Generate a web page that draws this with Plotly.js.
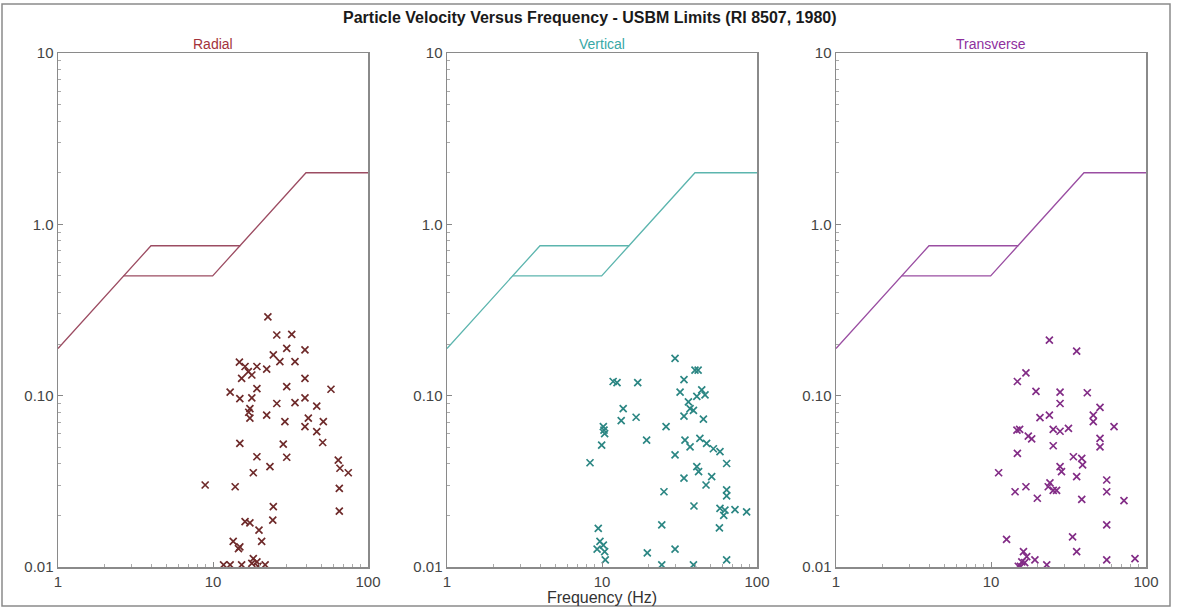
<!DOCTYPE html>
<html>
<head>
<meta charset="utf-8">
<script src="https://cdn.plot.ly/plotly-3.0.1.min.js"></script>
<style>html,body{margin:0;padding:0;background:#fff;}#chart{width:1177px;height:609px;}</style>
</head>
<body>
<div id="chart"></div>
<script>
// USBM RI 8507 limit curves
const limitFreqA = [1, 3.98, 14.92, 39.8, 100];
const limitVelA  = [0.1885, 0.75, 0.75, 2.0, 2.0];
const limitFreqB = [2.65, 9.95, 14.92];
const limitVelB  = [0.5, 0.5, 0.75];

const panelTitles = ["Radial", "Vertical", "Transverse"];
const yTickVals = [0.01, 0.1, 1, 10];
const yTickText = ["0.01", "0.10", "1.0", "10"];
const xTickVals = [1, 10, 100];
const xTickText = ["1", "10", "100"];

// Radial
const radialFreq = [22.6,25.8,32.2,29.9,39.2,24.5,27.0,33.8,14.8,16.1,19.2,22.2,16.9,17.8,15.3,39.2,19.2,29.9,12.9,57.7,
  14.9,17.8,25.8,33.8,39.2,46.7,17.3,17.0,22.2,17.3,29.1,41.2,51.5,39.2,46.7,14.9,28.4,51.0,19.2,29.9,
  64.3,23.3,65.9,74.6,18.2,8.9,13.9,65.3,24.5,65.3,24.3,16.1,17.3,19.8,13.5,14.9,20.6,14.6,18.2,19.2,
  17.8,11.7,12.9,15.3,21.7,19.5];
const radialVel = [0.288,0.226,0.228,0.189,0.185,0.173,0.158,0.158,0.157,0.148,0.148,0.143,0.138,0.132,0.126,0.126,0.110,0.113,0.105,0.109,
  0.096,0.097,0.090,0.091,0.097,0.087,0.084,0.080,0.077,0.074,0.0705,0.074,0.0705,0.066,0.0617,0.0527,0.0522,0.0533,0.044,0.0437,
  0.0421,0.0385,0.0377,0.0355,0.0355,0.0301,0.0294,0.0288,0.0225,0.0212,0.0188,0.0184,0.0181,0.0164,0.0141,0.0131,0.0141,0.0128,0.0112,0.0107,
  0.0105,0.0103,0.0103,0.0103,0.0103,0.0101];

// Vertical
const verticalFreq = [29.6,39.8,41.7,33.8,11.8,12.5,17.0,31.9,44.0,46.2,40.9,36.1,13.7,37.0,38.9,13.3,16.6,33.8,45.1,10.2,
  10.3,10.4,25.9,19.4,9.95,34.3,42.8,47.3,37.0,52.3,57.7,29.6,8.37,63.7,40.9,42.0,51.0,33.8,46.9,63.7,
  25.1,63.7,39.2,57.7,62.1,61.0,72.1,85.7,57.2,9.46,24.3,9.7,10.2,9.3,10.4,10.5,19.6,29.6,24.3,38.9,63.7];
const verticalVel = [0.165,0.141,0.141,0.124,0.121,0.119,0.119,0.105,0.108,0.101,0.099,0.092,0.084,0.084,0.082,0.0715,0.0748,0.076,0.073,0.066,
  0.063,0.060,0.066,0.055,0.0515,0.055,0.0564,0.0527,0.0503,0.049,0.0471,0.0451,0.0406,0.0402,0.0385,0.036,0.0337,0.033,0.0301,0.0282,
  0.0275,0.026,0.0227,0.022,0.0215,0.020,0.0216,0.021,0.0169,0.0168,0.0176,0.0141,0.0134,0.0127,0.0123,0.011,0.0121,0.0127,0.0103,0.0103,0.0110];

// Transverse
const transverseFreq = [23.8,35.7,16.8,14.8,19.5,27.9,41.8,27.9,50.5,20.7,23.8,45.7,45.7,14.7,15.3,17.4,18.3,25.2,27.9,31.6,
  62.2,50.5,50.5,25.2,14.8,34.0,38.5,39.0,27.9,28.5,35.7,11.2,55.8,14.3,16.8,23.4,25.2,26.5,24.0,19.9,
  38.5,55.8,72.1,55.8,12.6,33.6,35.7,16.2,17.0,15.8,16.5,19.2,22.9,55.8,84.9,15.0,15.5];
const transverseVel = [0.211,0.182,0.136,0.121,0.106,0.105,0.104,0.090,0.0855,0.0745,0.077,0.077,0.0705,0.063,0.0635,0.058,0.056,0.0635,0.062,0.0645,
  0.066,0.0564,0.0503,0.051,0.0461,0.044,0.043,0.0395,0.0385,0.036,0.0337,0.0355,0.0322,0.0275,0.0294,0.0294,0.028,0.028,0.031,0.0252,
  0.0248,0.0275,0.0244,0.0176,0.0145,0.015,0.0123,0.0123,0.0115,0.0107,0.0106,0.011,0.0103,0.011,0.0112,0.0101,0.0101];

const lineColors = ["#9c4c62", "#5cb5ae", "#9a4ea2"];
const markColors = ["#6e2a2a", "#2b8683", "#822c86"];
const titleColors = ["#a3333b", "#38a8a6", "#8e2f9e"];
const freqs = [radialFreq, verticalFreq, transverseFreq];
const vels = [radialVel, verticalVel, transverseVel];

const xDomains = [[58/1177, 368/1177], [447/1177, 757/1177], [836/1177, 1146/1177]];
const yDomain = [1 - 567/609, 1 - 53/609];

const minorX = [], minorY = [];
[1, 10].forEach(d => { for (let k = 2; k <= 9; k++) minorX.push(k*d); });
[0.01, 0.1, 1].forEach(d => { for (let k = 2; k <= 9; k++) minorY.push(k*d); });

const traces = [];
const layout = {
  width: 1177, height: 609,
  margin: {l: 0, r: 0, t: 0, b: 0},
  paper_bgcolor: "#ffffff", plot_bgcolor: "#ffffff",
  showlegend: false,
  font: {family: "Liberation Sans, Arial, sans-serif", color: "#333"},
  annotations: [],
  shapes: [
    {type: "rect", xref: "paper", yref: "paper", x0: 2/1177, x1: 1170/1177, y0: 1 - 606/609, y1: 1 - 4/609,
     line: {color: "#8a8a8a", width: 1.5}, fillcolor: "rgba(0,0,0,0)"}
  ]
};

layout.annotations.push({
  text: "<b>Particle Velocity Versus Frequency - USBM Limits (RI 8507, 1980)</b>",
  xref: "paper", yref: "paper", x: 590/1177, y: 1 - 18/609, xanchor: "center", yanchor: "middle",
  showarrow: false, font: {size: 16, color: "#1a1a1a", family: "Liberation Sans, Arial, sans-serif"}
});

for (let i = 0; i < 3; i++) {
  const sx = i === 0 ? "" : String(i + 1);
  const xa = "x" + sx, ya = "y" + sx;
  traces.push({x: limitFreqA, y: limitVelA, xaxis: xa, yaxis: ya, type: "scatter", mode: "lines",
    line: {color: lineColors[i], width: 1.3}, hoverinfo: "skip"});
  traces.push({x: limitFreqB, y: limitVelB, xaxis: xa, yaxis: ya, type: "scatter", mode: "lines",
    line: {color: lineColors[i], width: 1.3}, hoverinfo: "skip"});
  traces.push({x: freqs[i], y: vels[i], xaxis: xa, yaxis: ya, type: "scatter", mode: "markers",
    marker: {symbol: "x-thin-open", size: 7, line: {color: markColors[i], width: 1.7}, color: markColors[i]}});

  layout["xaxis" + sx] = {
    type: "log", range: [0, 2], domain: xDomains[i], anchor: ya,
    tickmode: "array", tickvals: xTickVals, ticktext: xTickText,
    ticks: "inside", ticklen: 5, tickcolor: "#888",
    minor: {tickmode: "array", tickvals: minorX, ticks: "inside", ticklen: 3, tickcolor: "#aaa", showgrid: false},
    showgrid: false, zeroline: false, showline: true, linecolor: "#8a8a8a", linewidth: 1.5, mirror: true,
    tickfont: {size: 15, color: "#444"}, fixedrange: true
  };
  layout["yaxis" + sx] = {
    type: "log", range: [-2, 1], domain: yDomain, anchor: xa,
    tickmode: "array", tickvals: yTickVals, ticktext: yTickText,
    ticks: "inside", ticklen: 5, tickcolor: "#888",
    minor: {tickmode: "array", tickvals: minorY, ticks: "inside", ticklen: 3, tickcolor: "#aaa", showgrid: false},
    showgrid: false, zeroline: false, showline: true, linecolor: "#8a8a8a", linewidth: 1.5, mirror: true,
    tickfont: {size: 15, color: "#444"}, fixedrange: true
  };
  layout.annotations.push({
    text: panelTitles[i], xref: "paper", yref: "paper",
    x: (xDomains[i][0] + xDomains[i][1]) / 2, y: 1 - 44/609, xanchor: "center", yanchor: "middle",
    showarrow: false, font: {size: 14, color: titleColors[i]}
  });
}
layout.xaxis2.title = {text: "Frequency (Hz)", font: {size: 16, color: "#333"}, standoff: 2};

Plotly.newPlot("chart", traces, layout, {displayModeBar: false, staticPlot: true});
</script>
</body>
</html>
